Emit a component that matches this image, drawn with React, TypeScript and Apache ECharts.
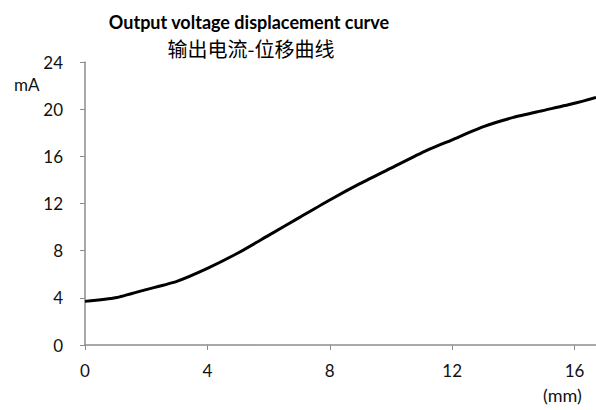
import React, { useEffect, useRef } from "react";
import * as echarts from "echarts";

const titleText = "Output voltage displacement curve";
const subtitleText = "输出电流-位移曲线";
const yUnit = "mA";
const xUnit = "(mm)";

const displacement = [0, 1, 2, 3, 4, 5, 6, 7, 8, 9, 10, 11, 12, 13, 14, 15, 16, 16.7];
const current = [3.7, 4.0, 4.7, 5.4, 6.5, 7.8, 9.3, 10.8, 12.3, 13.7, 15.0, 16.3, 17.4, 18.5, 19.3, 19.9, 20.5, 21.0];

const FONT = "Lato, 'Noto Sans', sans-serif";

export default function App() {
  const ref = useRef<HTMLDivElement>(null);
  useEffect(() => {
    if (!ref.current) return;
    const chart = echarts.init(ref.current, undefined, { renderer: "svg" });
    const data = displacement.map((x, i) => [x, current[i]]);
    chart.setOption({
      animation: false,
      backgroundColor: "#fff",
      title: [
        {
          text: titleText,
          left: 244,
          top: 8,
          textAlign: "center",
          textStyle: { fontFamily: FONT, fontSize: 18, fontWeight: "bold", color: "#000" },
        },
        {
          text: subtitleText,
          left: 246,
          top: 33,
          textAlign: "center",
          textStyle: { fontFamily: "'Noto Sans CJK SC', sans-serif", fontSize: 20, fontWeight: "normal", color: "#000" },
        },
      ],
      grid: { left: 85, right: 0, top: 62, bottom: 65 },
      xAxis: {
        type: "value",
        min: 0,
        max: 16.7,
        interval: 4,
        axisLine: { show: true, lineStyle: { color: "#8c8c8c", width: 1.5 } },
        axisTick: { show: true, length: 5, lineStyle: { color: "#8c8c8c" } },
        splitLine: { show: false },
        axisLabel: {
          margin: 17,
          fontFamily: FONT,
          fontSize: 17,
          color: "#111",
          showMaxLabel: false,
          formatter: (v: number) => (v % 4 === 0 ? String(v) : ""),
        },
      },
      yAxis: {
        type: "value",
        min: 0,
        max: 24,
        interval: 4,
        axisLine: { show: true, lineStyle: { color: "#8c8c8c", width: 1.5 } },
        axisTick: { show: true, length: 5, lineStyle: { color: "#8c8c8c" } },
        splitLine: { show: false },
        axisLabel: { margin: 22, fontFamily: FONT, fontSize: 17, color: "#111" },
      },
      graphic: [
        {
          type: "text",
          left: 14,
          top: 76,
          style: { text: yUnit, fontFamily: FONT, fontSize: 17, fill: "#111" },
        },
        {
          type: "text",
          left: 543,
          top: 386,
          style: { text: xUnit, fontFamily: FONT, fontSize: 18, fill: "#111" },
        },
      ],
      series: [
        {
          type: "line",
          data,
          showSymbol: false,
          smooth: 0.2,
          lineStyle: { color: "#000", width: 3 },
          itemStyle: { color: "#000" },
        },
      ],
    });
    return () => chart.dispose();
  }, []);
  return (
    <div
      ref={ref}
      style={{ position: "fixed", left: 0, top: 0, width: 596, height: 410 }}
    />
  );
}
